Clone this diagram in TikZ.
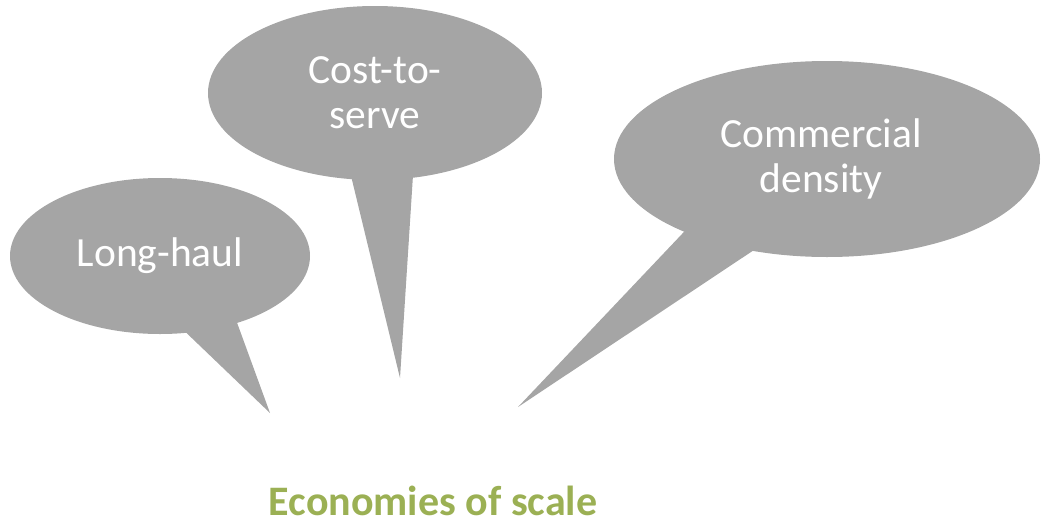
\documentclass[tikz,border=0pt]{standalone}
\usepackage{fontspec}
\setmainfont{Carlito}
\usetikzlibrary{shapes.geometric,backgrounds}
\definecolor{bubblegray}{HTML}{A5A5A5}
\definecolor{titlegreen}{HTML}{9BB054}
\tikzset{
  bubble/.style={ellipse, fill=bubblegray, inner sep=0pt, text=white,
    align=center, font=\fontsize{41.5}{45}\selectfont},
  tail/.style={fill=bubblegray},
}
\begin{document}
\begin{tikzpicture}[x=1pt, y=-1pt]
  \useasboundingbox (0,0) rectangle (1043,525);

  % speech bubbles
  \node[bubble, minimum width=300pt, minimum height=156pt] (lh) at (160,256) {Long-haul};
  \node[bubble, minimum width=334pt, minimum height=174pt] (cs) at (375,93) {Cost-to-\\serve};
  \node[bubble, minimum width=426pt, minimum height=196pt, text width=300pt] (cd) at (827,159) {\hspace*{-12pt}Commercial\\\hspace*{-12pt}density};

  % tail tips
  \coordinate (lhtip) at (270,413);
  \coordinate (cstip) at (400,378);
  \coordinate (cdtip) at (518,407);

  % tails, behind the bubbles
  \begin{scope}[on background layer]
    \fill[tail] (lh.-71) -- (lhtip) -- (lh.-41) -- (lh.center) -- cycle;
    \fill[tail] (cs.-105) -- (cstip) -- (cs.-66) -- (cs.center) -- cycle;
    \fill[tail] (cd.-153) -- (cdtip) -- (cd.-129) -- (cd.center) -- cycle;
  \end{scope}

  % title
  \node[anchor=base, inner sep=0pt, text=titlegreen, font=\bfseries\fontsize{42}{48}\selectfont] (title) at (433,515) {Economies of scale};
\end{tikzpicture}
\end{document}
